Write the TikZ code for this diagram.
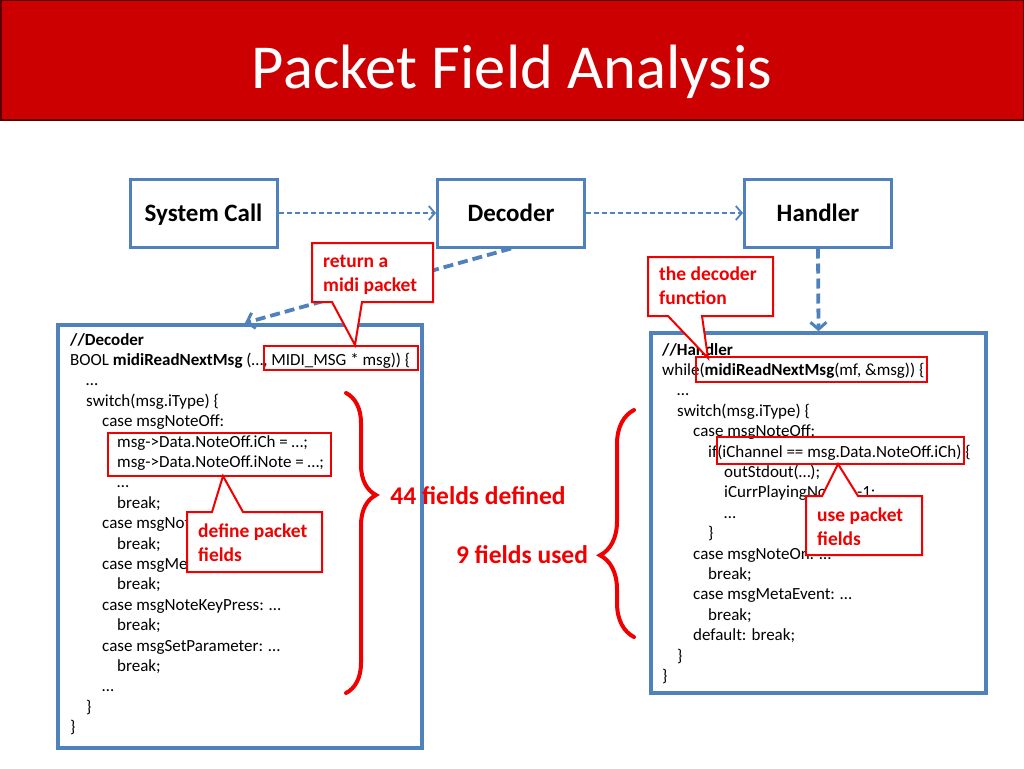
\documentclass[tikz,border=0pt]{standalone}
\usepackage{fontspec}
\setmainfont{Carlito}
\usetikzlibrary{arrows.meta,decorations.pathreplacing}
\definecolor{titlered}{RGB}{204,0,0}
\definecolor{titleedge}{RGB}{90,0,0}
\definecolor{boxblue}{RGB}{79,129,189}
\definecolor{calred}{RGB}{240,0,0}
\begin{document}
\begin{tikzpicture}[x=1pt,y=-1pt,
  code/.style={anchor=base west,inner sep=0pt,font=\fontsize{17}{20}\selectfont},
  topbox/.style={draw=boxblue,line width=3pt,fill=white,minimum width=147pt,minimum height=68pt,inner sep=0pt,text height=16pt,text depth=0pt,font=\fontsize{25}{30}\selectfont\bfseries},
  codebox/.style={draw=boxblue,line width=3.5pt,fill=white,inner sep=0pt},
  hl/.style={draw=calred,line width=2pt,inner sep=0pt},
  callout/.style={draw=calred,line width=2pt,fill=white,line join=miter},
  caltext/.style={anchor=base west,inner sep=0pt,text=calred,font=\fontsize{19.5}{24}\selectfont\bfseries},
  bigtext/.style={inner sep=0pt,text=calred,font=\fontsize{25.5}{30}\selectfont\bfseries},
  thindash/.style={draw=boxblue,line width=1.8pt,dash pattern=on 5pt off 3pt,-{Straight Barb[length=6pt,width=14pt,line width=1.8pt]}},
  thickdash/.style={draw=boxblue,line width=3.8pt,dash pattern=on 10pt off 5pt,-{Straight Barb[length=7pt,width=16pt,line width=3pt]}},
  bracestyle/.style={draw=calred,line width=4pt,line cap=round,decorate}
]
\useasboundingbox (0,0) rectangle (1024,768);
\fill[white] (0,0) rectangle (1024,768);
% title bar
\draw[fill=titlered,draw=titleedge,line width=1.5pt] (0.75,0.75) rectangle (1023.25,120);
\node[anchor=base,inner sep=0pt,text=white,font=\fontsize{62.6}{75}\selectfont] (title) at (512,88) {Packet Field Analysis};

% top boxes
\node[topbox] (sc) at (203.5,213) {System Call};
\node[topbox] (dec) at (511,213) {Decoder};
\node[topbox] (hdl) at (818,213) {Handler};
\draw[thindash] (sc) -- (dec);
\draw[thindash] (dec) -- (hdl);

% code boxes
\node[codebox,minimum width=364pt,minimum height=423pt] (dcode) at (240,536.5) {};
\node[codebox,minimum width=335pt,minimum height=360pt] (hcode) at (818.5,513) {};
\coordinate (dtop) at (245,323);
\draw[thickdash] (dec.south) -- (dtop);
\draw[thickdash] (hdl.south) -- (hcode.north);

% decoder code
\node[code] (d0) at (70,345) {\textbf{//Decoder}};
\node[code] (d1) at (70,365.4) {BOOL \textbf{midiReadNextMsg} (…, MIDI\_MSG * msg)) \{};
\node[code] (d2) at (86,385.8) {…};
\node[code] (d3) at (86,406.2) {switch(msg.iType) \{};
\node[code] (d4) at (102,426.6) {case msgNoteOff:};
\node[code] (d5) at (117,447) {msg->Data.NoteOff.iCh = …;};
\node[code] (d6) at (117,467.4) {msg->Data.NoteOff.iNote = …;};
\node[code] (d7) at (117,487.8) {…};
\node[code] (d8) at (117,508.2) {break;};
\node[code] (d9) at (102,528.6) {case msgNot};
\node[code] (d10) at (117,549) {break;};
\node[code] (d11) at (102,569.4) {case msgMe};
\node[code] (d12) at (117,589.8) {break;};
\node[code] (d13) at (102,610.2) {case msgNoteKeyPress: …};
\node[code] (d14) at (117,630.6) {break;};
\node[code] (d15) at (102,651) {case msgSetParameter: …};
\node[code] (d16) at (117,671.4) {break;};
\node[code] (d17) at (102,691.8) {…};
\node[code] (d18) at (86,712.2) {\}};
\node[code] (d19) at (70,732.6) {\}};

% handler code
\node[code] (h0) at (662,355) {\textbf{//Handler}};
\node[code] (h1) at (662,375.4) {while(\textbf{midiReadNextMsg}(mf, \&msg)) \{};
\node[code] (h2) at (677,395.8) {…};
\node[code] (h3) at (677,416.2) {switch(msg.iType) \{};
\node[code] (h4) at (693,436.6) {case msgNoteOff:};
\node[code] (h5) at (708,457) {if(iChannel == msg.Data.NoteOff.iCh) \{};
\node[code] (h6) at (724,477.4) {outStdout(…);};
\node[code] (h7) at (724,497.8) {iCurrPlayingNote = -1;};
\node[code] (h8) at (724,518.2) {…};
\node[code] (h9) at (708,538.6) {\}};
\node[code] (h10) at (693,559) {case msgNoteOn: …};
\node[code] (h11) at (708,579.4) {break;};
\node[code] (h12) at (693,599.8) {case msgMetaEvent: …};
\node[code] (h13) at (708,620.2) {break;};
\node[code] (h14) at (693,640.6) {default: break;};
\node[code] (h15) at (677,661) {\}};
\node[code] (h16) at (662,681.4) {\}};

% highlight rectangles
\node[hl,minimum width=154pt,minimum height=24pt] (hl1) at (341,358) {};
\node[hl,minimum width=223pt,minimum height=43pt] (hl2) at (219.5,454.5) {};
\node[hl,minimum width=231pt,minimum height=25pt] (hl3) at (811.5,369.5) {};
\node[hl,minimum width=247pt,minimum height=27pt] (hl4) at (840.5,450.5) {};

% callouts
\draw[callout] (312,243) -- (433,243) -- (433,302) -- (362,302) -- (355,345) -- (332,302) -- (312,302) -- cycle;
\node[caltext] (c1a) at (323,267) {return a};
\node[caltext] (c1b) at (323,291) {midi packet};

\draw[callout] (648,257) -- (773,257) -- (773,316) -- (702,316) -- (708,358) -- (668,316) -- (648,316) -- cycle;
\node[caltext] (c2a) at (659,280) {the decoder};
\node[caltext] (c2b) at (659,304) {function};

\draw[callout] (187,512) -- (212,512) -- (223,476) -- (243,512) -- (322,512) -- (322,572) -- (187,572) -- cycle;
\node[caltext] (c3a) at (198,537) {define packet};
\node[caltext] (c3b) at (198,561) {fields};

\draw[callout] (806,496) -- (822,496) -- (838,464) -- (858,496) -- (922,496) -- (922,555) -- (806,555) -- cycle;
\node[caltext] (c4a) at (817,521) {use packet};
\node[caltext] (c4b) at (817,545) {fields};

% braces
\draw[bracestyle,decoration={brace,amplitude=30pt,aspect=0.34}] (346,393) -- (346,693);
\draw[bracestyle,decoration={brace,amplitude=34pt,aspect=0.36}] (634,637) -- (634,410);
\node[bigtext] (f44) at (478,496) {44 fields defined};
\node[bigtext] (f9) at (522,555) {9 fields used};
\end{tikzpicture}
\end{document}
